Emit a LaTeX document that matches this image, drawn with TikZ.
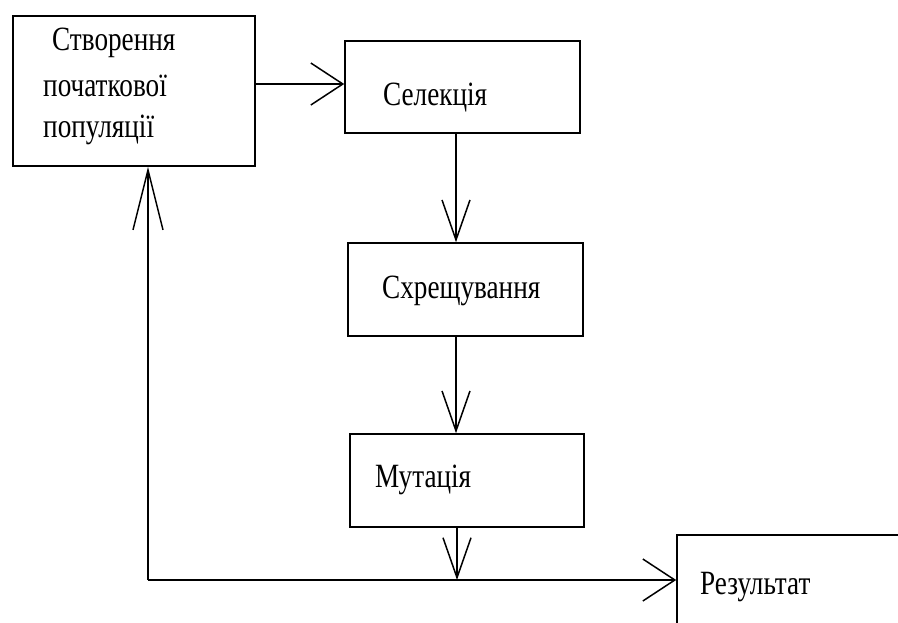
\documentclass[tikz,border=0pt]{standalone}
\usepackage{fontspec}
\setmainfont[FakeStretch=0.8]{Liberation Serif}
\usetikzlibrary{arrows.meta}
\begin{document}
\begin{tikzpicture}[x=1pt,y=-1pt,
  box/.style={draw=black,line width=1.6pt,rectangle,inner sep=0pt},
  lbl/.style={anchor=base west,inner sep=0pt,font=\fontsize{34}{42}\selectfont},
  conn/.style={draw=black,line width=1.5pt},
  harr/.style={conn,-{Straight Barb[length=32pt,width=42pt,line width=1.5pt]}},
  varr/.style={conn,-{Straight Barb[length=40pt,width=28pt,line width=1.5pt]}},
  uarr/.style={conn,-{Straight Barb[length=60pt,width=30pt,line width=1.5pt]}}]
\useasboundingbox (0,0) rectangle (898,622);
\clip (0,0) rectangle (898,622);
% boxes
\node[box,minimum width=242pt,minimum height=150pt] (b1) at (134,91) {};
\node[box,minimum width=235pt,minimum height=92pt] (b2) at (462.5,87) {};
\node[box,minimum width=235pt,minimum height=93pt] (b3) at (465.5,289.5) {};
\node[box,minimum width=234pt,minimum height=93pt] (b4) at (467,480.5) {};
\node[box,minimum width=260pt,minimum height=120pt] (b5) at (807,595) {};
% labels
\node[lbl] (t1a) at (52,50) {Створення};
\node[lbl] (t1b) at (43,96) {початкової};
\node[lbl] (t1c) at (43,137) {популяції};
\node[lbl] (t2) at (383,105) {Селекція};
\node[lbl] (t3) at (382,298) {Схрещування};
\node[lbl] (t4) at (375,487) {Мутація};
\node[lbl] (t5) at (700,594) {Результат};
% helper coordinates
\coordinate (row1) at (0,84);
\coordinate (col) at (456,0);
\coordinate (join) at (457,580);
\coordinate (corner) at (148,580);
% connectors
\draw[harr] (b1.east |- row1) -- (b2.west |- row1);
\draw[varr] (b2.south -| col) -- (b3.north -| col);
\draw[varr] (b3.south -| col) -- (b4.north -| col);
\draw[varr] (b4.south -| join) -- (join);
\draw[uarr] (corner) -- (b1.south -| corner);
\draw[harr] (corner) -- (b5.west |- corner);
\end{tikzpicture}
\end{document}
